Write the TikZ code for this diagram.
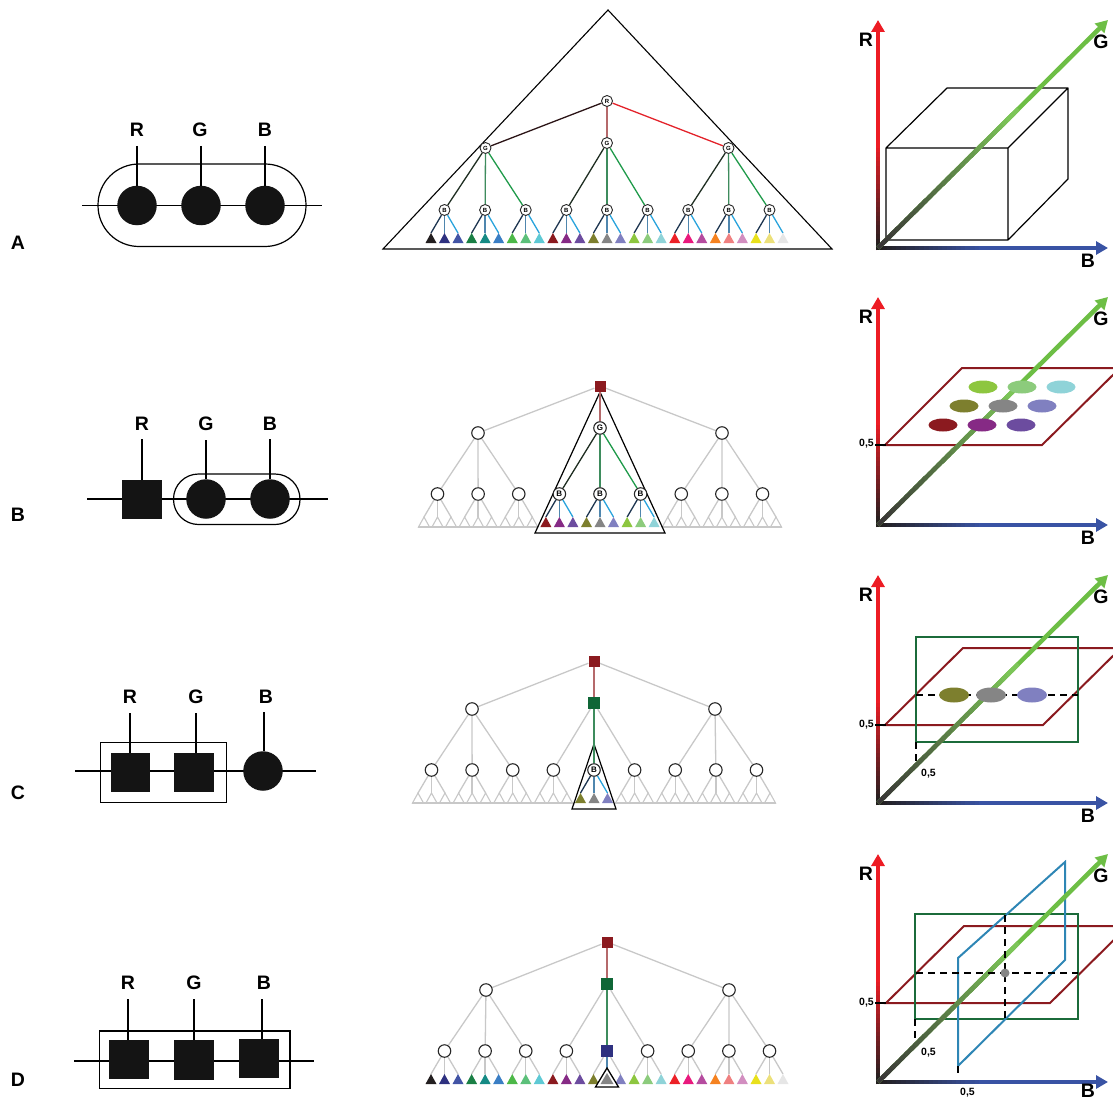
\documentclass[tikz,border=0pt]{standalone}
\usepackage{fontspec}
\setmainfont{Liberation Sans}
\usetikzlibrary{arrows.meta,calc,backgrounds}

% leaf colours: (R,G,B) levels 0, 1/2, 1, with B running fastest
\definecolor{lf1}{HTML}{231F20}
\definecolor{lf2}{HTML}{2E3180}
\definecolor{lf3}{HTML}{4254A5}
\definecolor{lf4}{HTML}{1A7F45}
\definecolor{lf5}{HTML}{158A84}
\definecolor{lf6}{HTML}{3A7EC4}
\definecolor{lf7}{HTML}{4CB848}
\definecolor{lf8}{HTML}{5CC07A}
\definecolor{lf9}{HTML}{5EC9D4}
\definecolor{lf10}{HTML}{8B1A1F}
\definecolor{lf11}{HTML}{862A85}
\definecolor{lf12}{HTML}{6C4C9F}
\definecolor{lf13}{HTML}{7D7F2E}
\definecolor{lf14}{HTML}{858585}
\definecolor{lf15}{HTML}{8080C0}
\definecolor{lf16}{HTML}{8DC63F}
\definecolor{lf17}{HTML}{8CCB7C}
\definecolor{lf18}{HTML}{8FD3D8}
\definecolor{lf19}{HTML}{EC2027}
\definecolor{lf20}{HTML}{E9197D}
\definecolor{lf21}{HTML}{B54B9F}
\definecolor{lf22}{HTML}{F58220}
\definecolor{lf23}{HTML}{EF8080}
\definecolor{lf24}{HTML}{D28EC0}
\definecolor{lf25}{HTML}{E8E01C}
\definecolor{lf26}{HTML}{ECE07A}
\definecolor{lf27}{HTML}{E6E6E6}
% branch colours (value 0, 1/2, 1 of each channel)
\definecolor{rz}{HTML}{2B1416}
\definecolor{rh}{HTML}{B5696B}
\definecolor{rf}{HTML}{E3222A}
\definecolor{gz}{HTML}{1F2E22}
\definecolor{gh}{HTML}{3E8C5D}
\definecolor{gf}{HTML}{1F9A4A}
\definecolor{bz}{HTML}{1D3550}
\definecolor{bh}{HTML}{4F86AE}
\definecolor{bf}{HTML}{29A3DC}
\definecolor{pale}{HTML}{C8C8C8}
\definecolor{selr}{HTML}{8B1A1F}
\definecolor{selg}{HTML}{0F6636}
\definecolor{selb}{HTML}{2E3180}
% axes and slicing planes
\definecolor{axr}{HTML}{ED1C24}
\definecolor{axg}{HTML}{6DBE45}
\definecolor{axb}{HTML}{3953A4}
\definecolor{axdark}{HTML}{231F20}
\definecolor{planer}{HTML}{8B1A1F}
\definecolor{planeg}{HTML}{1B6B3A}
\definecolor{planeb}{HTML}{2E86B5}

\tikzset{
  lbl/.style={font=\fontsize{19.5}{20}\selectfont\bfseries, inner sep=0pt},
  half/.style={font=\fontsize{10.5}{11}\selectfont\bfseries, inner sep=0pt},
  wire/.style={line width=1.2pt, black},
  blob/.style={circle, fill=black!92, minimum size=39.5pt, inner sep=0pt},
  sq/.style={rectangle, fill=black!92, minimum size=39.5pt, inner sep=0pt},
  anode/.style={circle, draw=black!85, fill=white, line width=0.9pt, minimum size=11pt,
    inner sep=0pt, font=\fontsize{6}{6}\selectfont\bfseries},
  tnode/.style={circle, draw=black!85, fill=white, line width=1.1pt, minimum size=12.5pt,
    inner sep=0pt, font=\fontsize{8}{8}\selectfont\bfseries},
  snode/.style={rectangle, minimum size=11pt, inner sep=0pt},
  br/.style={line width=1.3pt},
  pbr/.style={line width=1.3pt, pale},
  axis/.style={line width=4.5pt, -{Triangle[length=12pt,width=13pt]}},
  plane/.style={line width=2pt},
  guide/.style={black, line width=2pt, dash pattern=on 7pt off 5pt},
  tick/.style={black, line width=2.5pt},
}

% R and B axes with their dark-to-colour ramps, plus axis letters
% #1 name prefix, #2 origin y, #3 drop of the B letter below the axis
\newcommand\rgbframe[3]{%
  \coordinate (#1-o) at (878,#2);
  \coordinate (#1-rt) at (878,#2-228);
  \coordinate (#1-bt) at (1108,#2);
  \coordinate (#1-gt) at (1108,#2-228);
  \draw[axis,axr] ($(#1-o)+(0,2.25)$) -- (#1-rt);
  \draw[axis,axb] ($(#1-o)+(-2.25,0)$) -- (#1-bt);
  \foreach \i in {0,...,24}{%
    \pgfmathtruncatemacro\p{min(100,\i*100/22)}%
    \pgfmathsetmacro\ta{\i/50}\pgfmathsetmacro\tb{(\i+1.5)/50}%
    \draw[line width=4.5pt, axr!\p!axdark] ($(#1-o)!\ta!(#1-rt)$) -- ($(#1-o)!\tb!(#1-rt)$);
    \draw[line width=4.5pt, axb!\p!axdark] ($(#1-o)!\ta!(#1-bt)$) -- ($(#1-o)!\tb!(#1-bt)$);
  }%
  \fill[axdark] ($(#1-o)+(-2.25,-2.25)$) rectangle ($(#1-o)+(2.25,2.25)$);
  \node[lbl] (#1-rl) at ($(#1-o)+(-12,-208)$) {R};
  \node[lbl] (#1-bl) at ($(#1-o)+(210,#3)$) {B};
  \node[lbl] (#1-gl) at ($(#1-o)+(223,-206)$) {G};
}
% diagonal G axis, drawn over the slicing planes
\newcommand\gaxis[1]{%
  \draw[axis,axg] (#1-o) -- (#1-gt);
  \foreach \i in {0,...,29}{%
    \pgfmathtruncatemacro\p{min(100,\i*100/28)}%
    \pgfmathsetmacro\ta{\i/50}\pgfmathsetmacro\tb{(\i+1.5)/50}%
    \draw[line width=4.5pt, axg!\p!axdark!90!white] ($(#1-o)!\ta!(#1-gt)$) -- ($(#1-o)!\tb!(#1-gt)$);
  }%
}

\begin{document}
\begin{tikzpicture}[x=1pt,y=-1pt]
\useasboundingbox (0,0) rectangle (1113,1102);

% =================== left column: dimension diagrams ===================
% row A
\node[lbl] (ka) at (18,243) {A};
\draw[wire] (82,205.5) -- (322,205.5);
\draw[wire, rounded corners=41pt] (98,164) rectangle (306,246.5);
\foreach \c/\x in {r/137,g/201,b/265}{
  \node[blob] (a-c\c) at (\x,205.5) {};
  \coordinate (a-v\c) at (\x,146);
  \draw[wire] (a-v\c) -- (a-c\c);
}
\node[lbl] (a-tr) at (137,130) {R};
\node[lbl] (a-tg) at (200,130) {G};
\node[lbl] (a-tb) at (265,130) {B};

% row B
\node[lbl] (kb) at (18,515) {B};
\draw[wire] (87,499) -- (328,499);
\draw[wire, rounded corners=25pt] (173.5,474) rectangle (300,524.5);
\node[sq] (b-sr) at (142,499.5) {};
\node[blob] (b-cg) at (206,499) {};
\node[blob] (b-cb) at (270,499) {};
\coordinate (b-vr) at (142,439);
\coordinate (b-vg) at (206,440);
\coordinate (b-vb) at (270,439);
\draw[wire] (b-vr) -- (b-sr);
\draw[wire] (b-vg) -- (b-cg);
\draw[wire] (b-vb) -- (b-cb);
\node[lbl] (b-tr) at (142,424) {R};
\node[lbl] (b-tg) at (206,424) {G};
\node[lbl] (b-tb) at (270,424) {B};

% row C
\node[lbl] (kc) at (18,793) {C};
\draw[wire] (75,771) -- (316,771);
\draw[wire] (100.5,742.5) rectangle (226.5,802.5);
\node[sq] (c-sr) at (130.5,772.5) {};
\node[sq] (c-sg) at (194,772.5) {};
\node[blob] (c-cb) at (263,771) {};
\coordinate (c-vr) at (130,713);
\coordinate (c-vg) at (196,713);
\coordinate (c-vb) at (264,712);
\draw[wire] (c-vr) -- (c-vr |- c-sr.north);
\draw[wire] (c-vg) -- (c-vg |- c-sg.north);
\draw[wire] (c-vb) -- (c-vb |- c-cb.north);
\node[lbl] (c-tr) at (130,697) {R};
\node[lbl] (c-tg) at (196,697) {G};
\node[lbl] (c-tb) at (266,697) {B};

% row D
\node[lbl] (kd) at (18,1080) {D};
\draw[wire] (74,1061) -- (314,1061);
\draw[wire] (99.5,1031) rectangle (290,1088.5);
\node[sq] (d-sr) at (129,1059.5) {};
\node[sq] (d-sg) at (194,1060) {};
\node[sq] (d-sb) at (259,1058.5) {};
\coordinate (d-vr) at (128,999);
\coordinate (d-vg) at (194,999);
\coordinate (d-vb) at (262,999);
\draw[wire] (d-vr) -- (d-vr |- d-sr.north);
\draw[wire] (d-vg) -- (d-vg |- d-sg.north);
\draw[wire] (d-vb) -- (d-vb |- d-sb.north);
\node[lbl] (d-tr) at (128,983) {R};
\node[lbl] (d-tg) at (194,983) {G};
\node[lbl] (d-tb) at (264,983) {B};

% =================== middle column: search trees ===================
% ---- row A: the whole tree
\draw[line width=1.1pt] (608,10) -- (383,249) -- (832,249) -- cycle;
\node[anode] (t-a-r) at (607,101) {R};
\foreach \k/\y in {1/148,2/143,3/148}
  \node[anode] (t-a-g\k) at ({607+(\k-2)*121.5},\y) {G};
\foreach \j in {1,...,9}
  \node[anode] (t-a-b\j) at ({607+(\j-5)*40.625},210) {B};
\foreach \j in {1,...,9}{
  \foreach \m in {1,2,3}{
    \pgfmathtruncatemacro\n{(\j-1)*3+\m}
    \coordinate (t-a-l\n) at ({607+(\j-5)*40.625+(\m-2)*13.5},233);
  }
}
\foreach \k/\c in {1/rz,2/rh,3/rf} \draw[br,\c] (t-a-r) -- (t-a-g\k);
\foreach \k in {1,2,3}{
  \foreach \m/\c in {1/gz,2/gh,3/gf}{
    \pgfmathtruncatemacro\j{(\k-1)*3+\m}
    \draw[br,\c] (t-a-g\k) -- (t-a-b\j);
  }
}
\foreach \j in {1,...,9}{
  \foreach \m/\c in {1/bz,2/bh,3/bf}{
    \pgfmathtruncatemacro\n{(\j-1)*3+\m}
    \draw[br,\c] (t-a-b\j) -- (t-a-l\n);
    \fill[lf\n] (t-a-l\n) -- ++(-5.5,10) -- ++(11,0) -- cycle;
  }
}

% ---- row B: R fixed
\draw[line width=1.2pt] (600,392) -- (535,533) -- (665,533) -- cycle;
\node[snode,fill=selr] (t-b-r) at (600,386) {};
\node[tnode] (t-b-g1) at (478,433) {};
\node[tnode] (t-b-g2) at (600,428) {G};
\node[tnode] (t-b-g3) at (722,433) {};
\foreach \j in {1,2,3,7,8,9}
  \node[tnode] (t-b-b\j) at ({600+(\j-5)*40.625},494) {};
\foreach \j in {4,5,6}
  \node[tnode] (t-b-b\j) at ({600+(\j-5)*40.625},494) {B};
\foreach \j in {1,...,9}{
  \foreach \m in {1,2,3}{
    \pgfmathtruncatemacro\n{(\j-1)*3+\m}
    \coordinate (t-b-l\n) at ({600+(\j-5)*40.625+(\m-2)*13.5},517);
  }
}
\begin{pgfonlayer}{background}
  \draw[pbr] (t-b-r) -- (t-b-g1);
  \draw[pbr] (t-b-r) -- (t-b-g3);
  \foreach \j in {1,2,3} \draw[pbr] (t-b-g1) -- (t-b-b\j);
  \foreach \j in {7,8,9} \draw[pbr] (t-b-g3) -- (t-b-b\j);
  \foreach \j in {1,2,3,7,8,9}{
    \foreach \m in {1,2,3}{
      \pgfmathtruncatemacro\n{(\j-1)*3+\m}
      \draw[pbr] (t-b-b\j) -- (t-b-l\n);
      \draw[pbr,line width=1.1pt] (t-b-l\n) -- ++(-5.5,10) -- ++(11,0) -- cycle;
    }
  }
  \draw[pbr] ($(t-b-l1)+(-6,10)$) -- ($(t-b-l9)+(6,10)$);
  \draw[pbr] ($(t-b-l19)+(-6,10)$) -- ($(t-b-l27)+(6,10)$);
\end{pgfonlayer}
\draw[br,rh] (t-b-r) -- (t-b-g2);
\foreach \m/\c in {1/gz,2/gh,3/gf}{
  \pgfmathtruncatemacro\j{3+\m}
  \draw[br,\c] (t-b-g2) -- (t-b-b\j);
}
\foreach \j in {4,5,6}{
  \foreach \m/\c in {1/bz,2/bh,3/bf}{
    \pgfmathtruncatemacro\n{(\j-1)*3+\m}
    \draw[br,\c] (t-b-b\j) -- (t-b-l\n);
    \fill[lf\n] (t-b-l\n) -- ++(-5.5,10) -- ++(11,0) -- cycle;
  }
}

% ---- row C: R and G fixed
\draw[line width=1.2pt] (594,744) -- (572,809) -- (616,809) -- cycle;
\node[snode,fill=selr] (t-c-r) at (594,661) {};
\node[tnode] (t-c-g1) at (472,709) {};
\node[snode,fill=selg,minimum size=12pt] (t-c-g2) at (594,703) {};
\node[tnode] (t-c-g3) at (715,709) {};
\foreach \j in {1,2,3,4,6,7,8,9}
  \node[tnode] (t-c-b\j) at ({594+(\j-5)*40.625},770) {};
\node[tnode] (t-c-b5) at (594,770) {B};
\foreach \j in {1,...,9}{
  \foreach \m in {1,2,3}{
    \pgfmathtruncatemacro\n{(\j-1)*3+\m}
    \coordinate (t-c-l\n) at ({594+(\j-5)*40.625+(\m-2)*13.5},793);
  }
}
\begin{pgfonlayer}{background}
  \draw[pbr] (t-c-r) -- (t-c-g1);
  \draw[pbr] (t-c-r) -- (t-c-g3);
  \foreach \j in {1,2,3} \draw[pbr] (t-c-g1) -- (t-c-b\j);
  \foreach \j in {4,6} \draw[pbr] (t-c-g2) -- (t-c-b\j);
  \foreach \j in {7,8,9} \draw[pbr] (t-c-g3) -- (t-c-b\j);
  \foreach \j in {1,2,3,4,6,7,8,9}{
    \foreach \m in {1,2,3}{
      \pgfmathtruncatemacro\n{(\j-1)*3+\m}
      \draw[pbr] (t-c-b\j) -- (t-c-l\n);
      \draw[pbr,line width=1.1pt] (t-c-l\n) -- ++(-5.5,10) -- ++(11,0) -- cycle;
    }
  }
  \draw[pbr] ($(t-c-l1)+(-6,10)$) -- ($(t-c-l12)+(6,10)$);
  \draw[pbr] ($(t-c-l16)+(-6,10)$) -- ($(t-c-l27)+(6,10)$);
\end{pgfonlayer}
\draw[br,rh] (t-c-r) -- (t-c-g2);
\draw[br,gh] (t-c-g2) -- (t-c-b5);
\foreach \m/\c in {1/bz,2/bh,3/bf}{
  \pgfmathtruncatemacro\n{12+\m}
  \draw[br,\c] (t-c-b5) -- (t-c-l\n);
  \fill[lf\n] (t-c-l\n) -- ++(-5.5,10) -- ++(11,0) -- cycle;
}

% ---- row D: R, G and B fixed
\node[snode,fill=selr] (t-d-r) at (607,942) {};
\node[tnode] (t-d-g1) at (486,990) {};
\node[snode,fill=selg,minimum size=12pt] (t-d-g2) at (607,984) {};
\node[tnode] (t-d-g3) at (729,990) {};
\foreach \j in {1,2,3,4,6,7,8,9}
  \node[tnode] (t-d-b\j) at ({607+(\j-5)*40.625},1051) {};
\node[snode,fill=selb,minimum size=12pt] (t-d-b5) at (607,1051) {};
\foreach \j in {1,...,9}{
  \foreach \m in {1,2,3}{
    \pgfmathtruncatemacro\n{(\j-1)*3+\m}
    \coordinate (t-d-l\n) at ({607+(\j-5)*40.625+(\m-2)*13.5},1074);
  }
}
\begin{pgfonlayer}{background}
  \draw[pbr] (t-d-r) -- (t-d-g1);
  \draw[pbr] (t-d-r) -- (t-d-g3);
  \foreach \j in {1,2,3} \draw[pbr] (t-d-g1) -- (t-d-b\j);
  \foreach \j in {4,6} \draw[pbr] (t-d-g2) -- (t-d-b\j);
  \foreach \j in {7,8,9} \draw[pbr] (t-d-g3) -- (t-d-b\j);
  \foreach \j in {1,...,9}{
    \foreach \m in {1,2,3}{
      \pgfmathtruncatemacro\n{(\j-1)*3+\m}
      \ifnum\n=14\else\draw[pbr] (t-d-b\j) -- (t-d-l\n);\fi
    }
  }
\end{pgfonlayer}
\draw[br,rh] (t-d-r) -- (t-d-g2);
\draw[br,gh] (t-d-g2) -- (t-d-b5);
\draw[br,bh] (t-d-b5) -- (t-d-l14);
\foreach \n in {1,...,27}
  \fill[lf\n] (t-d-l\n) -- ++(-5.5,10) -- ++(11,0) -- cycle;
\draw[black,line width=1.3pt,fill=white] ($(t-d-l14)+(0,-6)$) -- ++(-11.5,19) -- ++(23,0) -- cycle;
\fill[lf14] ($(t-d-l14)+(0,-1)$) -- ++(-6.5,11) -- ++(13,0) -- cycle;

% =================== right column: RGB cubes ===================
% ---- row A: whole colour cube
\rgbframe{pa}{248}{13}
\draw[line width=1.2pt, line join=round]
  (886,148) rectangle (1008,240)
  (886,148) -- (947,88) -- (1068,88) -- (1008,148)
  (1068,88) -- (1068,179) -- (1008,240);
\gaxis{pa}

% ---- row B: plane R = 1/2
\rgbframe{pb}{525}{13}
\draw[plane,planer] (885,445) -- (1042,445) -- (1120,368) -- (962,368) -- cycle;
\gaxis{pb}
\foreach \x/\y/\c in {983/387/lf16, 1022/387/lf17, 1061/387/lf18,
                      964/406/lf13, 1003/406/lf14, 1042/406/lf15,
                      943/425/lf10, 982/425/lf11, 1021/425/lf12}
  \fill[\c] (\x,\y) ellipse [x radius=14.5, y radius=6.5];
\draw[tick] (875,445) -- (886,445);
\node[half,anchor=base east] (pb-h) at (874,446) {0,5};

% ---- row C: planes R = 1/2 and G = 1/2
\rgbframe{pc}{803}{13}
\draw[plane,planer] (885,725) -- (1043,725) -- (1121,648) -- (963,648) -- cycle;
\draw[plane,planeg,line width=2.3pt] (916,637) rectangle (1078,742);
\gaxis{pc}
\draw[guide] (916,695) -- (1078,695);
\draw[guide] (916,742) -- (916,766);
\foreach \x/\c in {954/lf13, 991/lf14, 1032/lf15}
  \fill[\c] (\x,695) ellipse [x radius=15, y radius=7.5];
\draw[tick] (875,725) -- (886,725);
\node[half,anchor=base east] (pc-h) at (874,727) {0,5};
\node[half,anchor=base west] (pc-hg) at (921,776) {0,5};

% ---- row D: planes R, G and B = 1/2
\rgbframe{pd}{1082}{9}
\draw[plane,planer] (886,1003) -- (1050,1003) -- (1128,926) -- (964,926) -- cycle;
\draw[plane,planeg,line width=2.3pt] (915,914) rectangle (1078,1019);
\draw[plane,planeb] (958,1066) -- (958,958) -- (1065,862) -- (1065,960) -- cycle;
\gaxis{pd}
\draw[guide] (916,973) -- (1078,973);
\draw[guide] (1005,915) -- (1005,1019);
\draw[guide] (915,1019) -- (915,1038);
\draw[guide] (958,1066) -- (958,1076);
\fill[lf14] (1005,973) circle [radius=4.5];
\draw[tick] (875,1003) -- (886,1003);
\node[half,anchor=base east] (pd-h) at (874,1005) {0,5};
\node[half,anchor=base west] (pd-hg) at (921,1055) {0,5};
\node[half,anchor=base west] (pd-hb) at (960,1095) {0,5};
\end{tikzpicture}
\end{document}
